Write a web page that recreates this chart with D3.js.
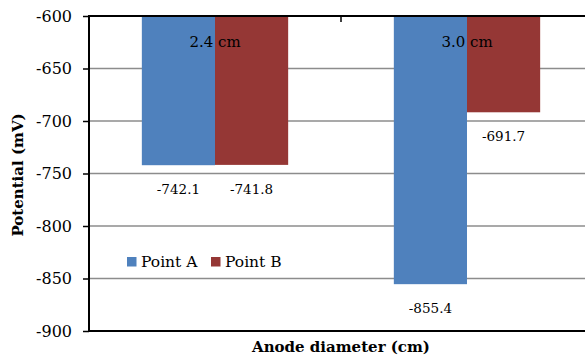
<!DOCTYPE html>
<html><head><meta charset="utf-8">
<script src="https://cdn.jsdelivr.net/npm/d3@7"></script>
<style>body{margin:0;background:#fff}svg{display:block}text{font-family:"DejaVu Serif",serif;fill:#000}</style>
</head><body><svg id="c" width="585" height="357"></svg>
<script>
const categories = ["2.4 cm", "3.0 cm"];
const seriesNames = ["Point A", "Point B"];
const pointA = [-742.1, -855.4];
const pointB = [-741.8, -691.7];
const yTicks = [-600, -650, -700, -750, -800, -850, -900];
const colors = ["#4F81BD", "#953735"];

const svg = d3.select("#c");
const m = {l: 89, t: 16, r: 593, b: 331};
const y = d3.scaleLinear().domain([-600, -900]).range([m.t, m.b]);
const x0 = d3.scaleBand().domain(categories).range([m.l, m.r]).paddingInner(0).paddingOuter(0);
const x1 = d3.scaleBand().domain(seriesNames).range([0, x0.bandwidth()]).paddingInner(0).paddingOuter(0.7222);

// gridlines
svg.append("g").selectAll("line").data(yTicks.slice(1, -1)).join("line")
  .attr("x1", m.l).attr("x2", 585).attr("y1", d => y(d)).attr("y2", d => y(d))
  .attr("stroke", "#8c8c8c").attr("stroke-width", 1.5);

const data = categories.map((c, i) => ({c, vals: [pointA[i], pointB[i]]}));
const g = svg.append("g");
data.forEach(d => {
  d.vals.forEach((v, j) => {
    const bx = x0(d.c) + x1(seriesNames[j]);
    g.append("rect").attr("x", bx).attr("y", y(-600)).attr("width", x1.bandwidth())
      .attr("height", y(v) - y(-600)).attr("fill", colors[j]);
    g.append("text").attr("x", bx + x1.bandwidth() / 2).attr("y", y(v) + 29)
      .attr("text-anchor", "middle").attr("font-size", 13.5).text(v.toFixed(1));
  });
});

// y axis
const ya = svg.append("g").attr("transform", `translate(${m.l},0)`)
  .call(d3.axisLeft(y).tickValues(yTicks).tickSize(6).tickPadding(11).tickFormat(d => String(d)));
ya.select(".domain").remove();
ya.selectAll(".tick line").attr("stroke", "#000").attr("stroke-width", 1.5);
ya.selectAll(".tick text").attr("font-size", 16).attr("font-family", "DejaVu Serif").attr("fill", "#000");
svg.append("line").attr("x1", m.l).attr("x2", m.l).attr("y1", m.t - 1).attr("y2", m.b + 1)
  .attr("stroke", "#000").attr("stroke-width", 2);

// top category axis
const xa = svg.append("g").attr("transform", `translate(0,${m.t})`)
  .call(d3.axisBottom(x0).tickSize(0).tickPadding(0));
xa.select(".domain").remove();
xa.selectAll(".tick text").attr("font-size", 15).attr("font-family", "DejaVu Serif").attr("fill", "#000").attr("dy", null).attr("y", 31);
svg.append("line").attr("x1", m.l).attr("x2", 585).attr("y1", m.t).attr("y2", m.t).attr("stroke", "#000").attr("stroke-width", 2);
svg.append("line").attr("x1", m.l).attr("x2", 585).attr("y1", m.b).attr("y2", m.b).attr("stroke", "#000").attr("stroke-width", 2);
svg.append("line").attr("x1", x0(categories[1])).attr("x2", x0(categories[1])).attr("y1", m.t).attr("y2", m.t + 6).attr("stroke", "#000").attr("stroke-width", 1.5);

// legend
const lg = svg.append("g");
const lx = [127, 211];
seriesNames.forEach((s, i) => {
  lg.append("rect").attr("x", lx[i]).attr("y", 257).attr("width", 9.5).attr("height", 9.5).attr("fill", colors[i]);
  lg.append("text").attr("x", lx[i] + 14).attr("y", 267).attr("font-size", 15.5).text(s);
});

// titles
svg.append("text").attr("x", 341).attr("y", 352).attr("text-anchor", "middle")
  .attr("font-weight", "bold").attr("font-size", 15).text("Anode diameter (cm)");
svg.append("text").attr("transform", "translate(23,175) rotate(-90)").attr("text-anchor", "middle")
  .attr("font-weight", "bold").attr("font-size", 15).text("Potential (mV)");
</script></body></html>
